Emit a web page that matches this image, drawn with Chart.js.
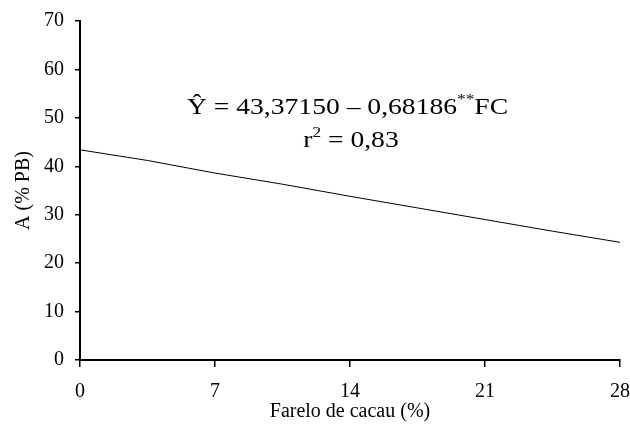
<!DOCTYPE html>
<html><head><meta charset="utf-8">
<script src="https://cdn.jsdelivr.net/npm/chart.js@4"></script>
<style>html,body{margin:0;padding:0;background:#fff}#w{width:630px;height:439px}</style>
</head><body><div id="w"><canvas id="c"></canvas></div>
<script>
const farelo = [0, 3.5, 7, 10.5, 14, 17.5, 21, 24.5, 28];
const aPB = [43.4, 41.2, 38.6, 36.3, 33.8, 31.4, 29.0, 26.6, 24.3];
const xTicks = [0, 7, 14, 21, 28];
const yTicks = [0, 10, 20, 30, 40, 50, 60, 70];
const eqMain = "Ŷ = 43,37150 – 0,68186";
const eqSup = "**";
const eqEnd = "FC";
const r2a = "r", r2sup = "2", r2b = " = 0,83";
const FONT = "'Liberation Serif', 'Times New Roman', serif";

const eqPlugin = {
  id: 'eq',
  afterDraw(chart) {
    const ctx = chart.ctx;
    ctx.save();
    ctx.fillStyle = '#000';
    ctx.textBaseline = 'alphabetic';
    const big = "24px " + FONT, small = "15px " + FONT;
    const sx = 1.15, cx = 347.5;
    ctx.translate(cx, 0);
    ctx.scale(sx, 1);
    ctx.font = big; const w1 = ctx.measureText(eqMain).width; const w3 = ctx.measureText(eqEnd).width;
    ctx.font = small; const w2 = ctx.measureText(eqSup).width;
    let x = -(w1 + w2 + w3) / 2, y = 114;
    ctx.font = big; ctx.fillText(eqMain, x, y); x += w1;
    ctx.font = small; ctx.fillText(eqSup, x, y - 10); x += w2;
    ctx.font = big; ctx.fillText(eqEnd, x, y);
    ctx.font = big; const ra = ctx.measureText(r2a).width, rb = ctx.measureText(r2b).width;
    ctx.font = small; const rs = ctx.measureText(r2sup).width;
    x = -(ra + rs + rb) / 2 + 3; y = 147;
    ctx.font = big; ctx.fillText(r2a, x, y); x += ra;
    ctx.font = small; ctx.fillText(r2sup, x, y - 10); x += rs;
    ctx.font = big; ctx.fillText(r2b, x, y);
    ctx.restore();
  }
};

new Chart(document.getElementById('c'), {
  type: 'line',
  data: { datasets: [{ data: farelo.map((x, i) => ({ x, y: aPB[i] })), borderColor: '#000', borderWidth: 1, pointRadius: 0, tension: 0, fill: false }] },
  options: {
    responsive: true, maintainAspectRatio: false, animation: false,
    layout: { padding: { top: 21, right: 10, left: 0, bottom: 0 } },
    plugins: { legend: { display: false }, tooltip: { enabled: false } },
    scales: {
      x: {
        type: 'linear', min: 0, max: 28,
        afterBuildTicks: s => { s.ticks = xTicks.map(v => ({ value: v })); },
        afterFit: s => { s.height = 79; s.paddingLeft = 0; s.paddingRight = 0; },
        ticks: { color: '#000', font: { family: FONT, size: 20 }, padding: 13, maxRotation: 0 },
        grid: { display: true, drawOnChartArea: false, drawTicks: true, tickLength: 7, color: '#000', lineWidth: 1.5 },
        border: { display: true, color: '#000', width: 2 },
        title: { display: true, text: 'Farelo de cacau (%)', color: '#000', font: { family: FONT, size: 20 }, padding: { top: 4, bottom: 15 } }
      },
      y: {
        type: 'linear', min: 0, max: 70,
        afterBuildTicks: s => { s.ticks = yTicks.map(v => ({ value: v })); },
        afterFit: s => { s.width = 80; s.paddingTop = 0; s.paddingBottom = 0; },
        ticks: { color: '#000', font: { family: FONT, size: 20 }, padding: 11 },
        grid: { display: true, drawOnChartArea: false, drawTicks: true, tickLength: 5, color: '#000', lineWidth: 1.5 },
        border: { display: true, color: '#000', width: 2 },
        title: { display: true, text: 'A (% PB)', color: '#000', font: { family: FONT, size: 20 }, padding: { top: 12, bottom: 0 } }
      }
    }
  },
  plugins: [eqPlugin]
});
</script></body></html>
